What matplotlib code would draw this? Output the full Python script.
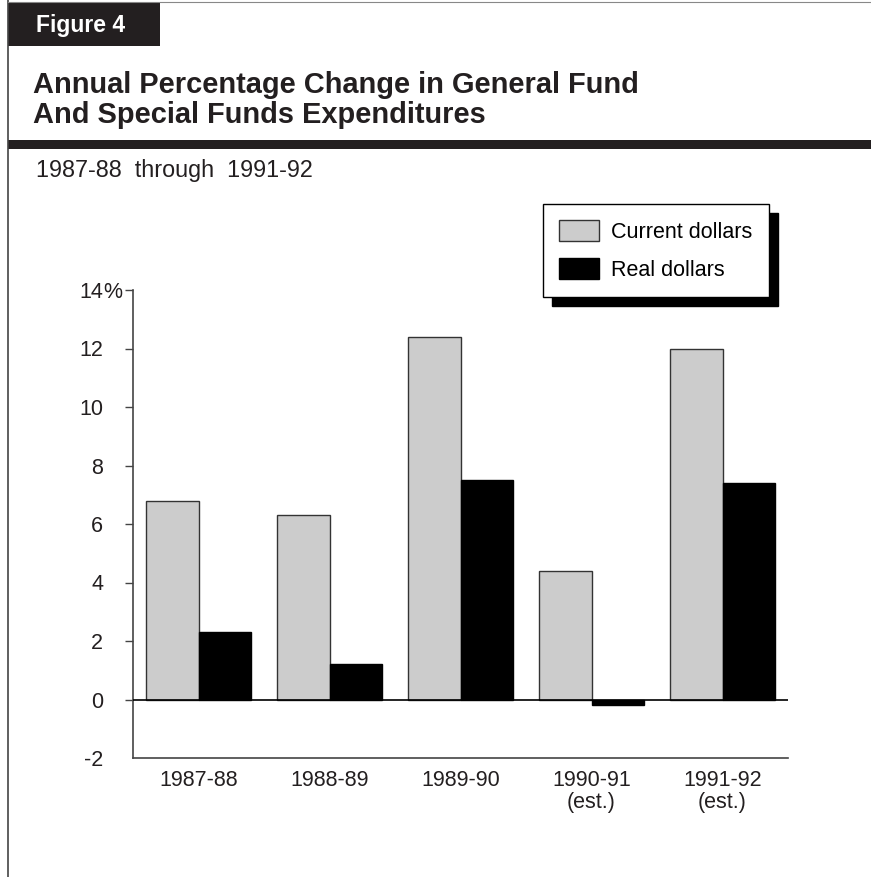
import matplotlib.pyplot as plt
from matplotlib.patches import Rectangle
from matplotlib.lines import Line2D
import numpy as np

# Dados do gráfico (variação percentual anual)
ANOS = ['1987-88', '1988-89', '1989-90', '1990-91\n(est.)', '1991-92\n(est.)']
CORRENTES = [6.8, 6.3, 12.4, 4.4, 12.0]   # Current dollars
REAIS = [2.3, 1.2, 7.5, -0.2, 7.4]        # Real dollars
TICKS_Y = [-2, 0, 2, 4, 6, 8, 10, 12, 14]

LARGURA, ALTURA = 871, 877


# Converte pixels (origem no canto superior esquerdo) para fração da figura
def fx(px):
    return px / LARGURA


def fy(py):
    return 1 - py / ALTURA


plt.rcParams['font.family'] = ['Liberation Sans', 'DejaVu Sans']
fig = plt.figure(figsize=(8.71, 8.77), dpi=100)

# Moldura: linha à esquerda e linha fina no topo
fig.add_artist(Line2D([fx(8), fx(8)], [0, 1], color='#444444', lw=1.2))
fig.add_artist(Line2D([fx(8), 1], [fy(2), fy(2)], color='#888888', lw=0.8))

# Aba "Figure 4"
fig.add_artist(Rectangle((fx(8), fy(46)), fx(160) - fx(8), fy(3) - fy(46),
                         color='#231f20', lw=0))
fig.text(fx(36), fy(32), 'Figure 4', color='white', fontsize=16.5,
         fontweight='bold', va='baseline')

# Título e faixa preta
fig.text(fx(33), fy(85), 'Annual Percentage Change in General Fund',
         fontsize=20.9, fontweight='bold', va='center', color='#231f20')
fig.text(fx(33), fy(115), 'And Special Funds Expenditures',
         fontsize=20.9, fontweight='bold', va='center', color='#231f20')
fig.add_artist(Rectangle((fx(8), fy(149)), 1 - fx(8), fy(140) - fy(149),
                         color='#231f20', lw=0))
fig.text(fx(36), fy(170), '1987-88  through  1991-92', fontsize=16.8,
         va='center', color='#231f20')

# Eixo principal
ax = fig.add_axes([fx(133), fy(758), fx(788) - fx(133), fy(290) - fy(758)])
ax.patch.set_visible(False)

x = np.arange(len(ANOS))
w = 0.397
ax.bar(x - w, CORRENTES, w, align='edge', color='#cccccc',
       edgecolor='#333333', linewidth=1, label='Current dollars', zorder=2)
ax.bar(x, REAIS, w, align='edge', color='black', edgecolor='black',
       linewidth=1, label='Real dollars', zorder=2)
ax.axhline(0, color='black', lw=1.2, zorder=3)

ax.set_xlim(-0.5, 4.5)
ax.set_ylim(-2, 14)
ax.set_yticks(TICKS_Y)
ax.set_yticklabels([str(t) for t in TICKS_Y])
ax.set_xticks(x)
ax.set_xticklabels(ANOS)

for lado in ['top', 'right']:
    ax.spines[lado].set_visible(False)
for lado in ['left', 'bottom']:
    ax.spines[lado].set_color('#444444')
    ax.spines[lado].set_linewidth(1.2)

ax.tick_params(axis='y', length=5.8, width=1, color='#444444', pad=15.8,
               labelsize=15.5, labelcolor='#231f20')
ax.tick_params(axis='x', length=0, pad=9, labelsize=15.5,
               labelcolor='#231f20')
ax.yaxis.get_major_ticks()[0].tick1line.set_visible(False)
for rot in ax.get_xticklabels():
    rot.set_linespacing(1.05)

# Sinal de % ao lado do 14
ax.annotate('%', xy=(0, 14), xycoords=('axes fraction', 'data'),
            xytext=(-21.6, 0), textcoords='offset points', ha='left',
            va='center_baseline', fontsize=15.5, color='#231f20')

# Legenda com sombra preta deslocada
leg = ax.legend(loc='upper left', bbox_to_anchor=(fx(543), fy(204)),
                bbox_transform=fig.transFigure, borderaxespad=0,
                fancybox=False, edgecolor='black', framealpha=1,
                fontsize=15.5, handlelength=1.86, handleheight=1.12,
                handletextpad=0.56, borderpad=0.75, labelspacing=0.72,
                shadow={'ox': 6.5, 'oy': -6.5, 'color': 'black', 'alpha': 1})
leg.get_frame().set_linewidth(1)

fig.savefig('out.png', dpi=100)
